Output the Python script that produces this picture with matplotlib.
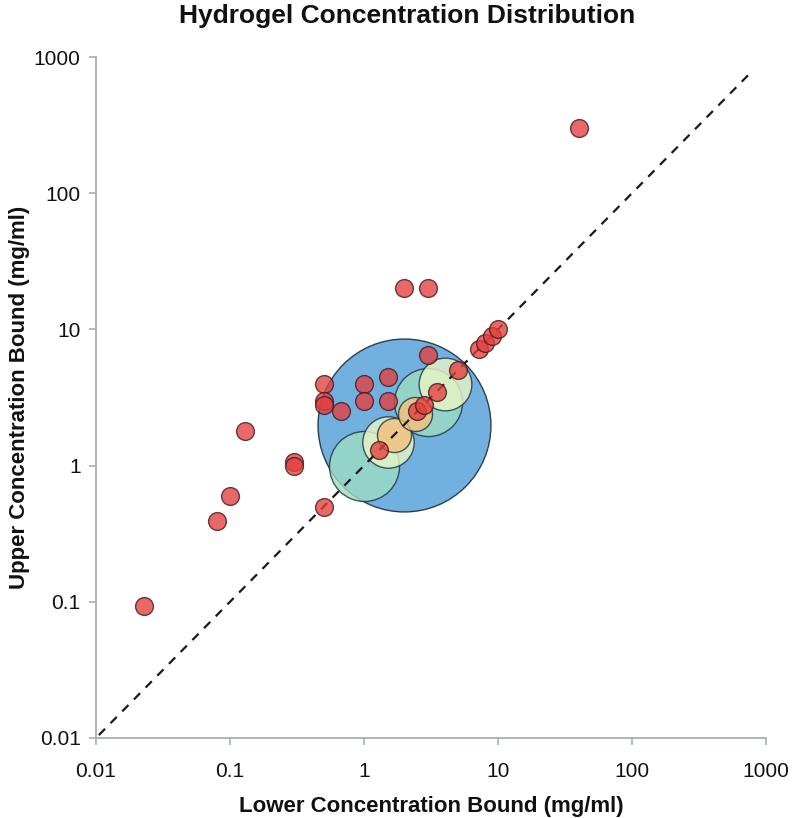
import matplotlib
matplotlib.use("Agg")
import matplotlib.pyplot as plt
from matplotlib.ticker import FixedLocator, FixedFormatter, NullLocator

plt.rcParams["font.family"] = ["Liberation Sans", "DejaVu Sans"]

# bubble groups (center lower / upper bound, marker area)
bubble_lower = [2.0, 1.0, 3.0, 1.5, 4.0, 1.67, 2.4]
bubble_upper = [2.0, 1.0, 2.95, 1.5, 4.0, 1.67, 2.4]
bubble_area = [15500, 2540, 2400, 1370, 1440, 600, 600]
bubble_colors = ["#62a8dc", "#9edcc2", "#9edcc2", "#eaf5c4", "#eaf5c4", "#f6c07c", "#f6c07c"]

# individual hydrogels
lower = [0.023, 0.08, 0.1, 0.13, 0.3, 0.3, 0.5, 0.5, 0.5, 0.5, 0.67,
         1.0, 1.0, 1.5, 1.5, 1.3, 2.0, 3.0, 3.0, 2.5, 2.8, 3.5, 5.0,
         7.2, 8.0, 9.0, 10.0, 40.0]
upper = [0.093, 0.39, 0.6, 1.8, 1.07, 1.0, 0.5, 4.0, 3.0, 2.8, 2.5,
         4.0, 3.0, 4.5, 3.0, 1.3, 20.0, 20.0, 6.5, 2.5, 2.8, 3.5, 5.0,
         7.2, 8.0, 9.0, 10.0, 300.0]

ticks = [0.01, 0.1, 1, 10, 100, 1000]
tick_labels = ["0.01", "0.1", "1", "10", "100", "1000"]
diag = [0.0105, 800]


def main() -> None:
    fig = plt.figure(figsize=(7.92, 8.18), dpi=100)
    ax = fig.add_axes([0.1212, 0.0978, 0.8460, 0.8325])

    # draw bubbles one by one to keep stacking order
    for x, y, s, c in zip(bubble_lower, bubble_upper, bubble_area, bubble_colors):
        ax.scatter([x], [y], s=s, color=c, alpha=0.9 if s > 10000 else 0.8,
                   edgecolors="#1d2f3f", linewidths=1.0, zorder=2)

    ax.plot(diag, diag, ls=(0, (4, 3.5)), color="#1a1a1a", lw=1.6, zorder=3)

    ax.scatter(lower, upper, s=165, color="#e43e3e", alpha=0.78,
               edgecolors="#3a1a1a", linewidths=1.0, zorder=4)

    ax.set_xscale("log")
    ax.set_yscale("log")
    ax.set_xlim(0.01, 1000)
    ax.set_ylim(0.01, 1000)

    for axis in (ax.xaxis, ax.yaxis):
        axis.set_major_locator(FixedLocator(ticks))
        axis.set_major_formatter(FixedFormatter(tick_labels))
        axis.set_minor_locator(NullLocator())

    for side in ("top", "right"):
        ax.spines[side].set_visible(False)
    for side in ("left", "bottom"):
        ax.spines[side].set_color("#a7b0b6")
        ax.spines[side].set_linewidth(1.3)
    ax.tick_params(direction="out", length=5, width=1.2, color="#a7b0b6",
                   labelsize=15, labelcolor="#111111")
    ax.tick_params(axis="y", pad=6)
    ax.tick_params(axis="x", pad=12)
    ax.patch.set_alpha(0)

    ax.set_xlabel("Lower Concentration Bound (mg/ml)", fontsize=16,
                  fontweight="bold", color="#111111", labelpad=11)
    ax.set_ylabel("Upper Concentration Bound (mg/ml)", fontsize=16,
                  fontweight="bold", color="#111111", labelpad=3)
    fig.text(0.514, 0.980, "Hydrogel Concentration Distribution", ha="center",
             va="center", fontsize=19, fontweight="bold", color="#111111")

    fig.savefig("out.png", dpi=100)


if __name__ == "__main__":
    main()
